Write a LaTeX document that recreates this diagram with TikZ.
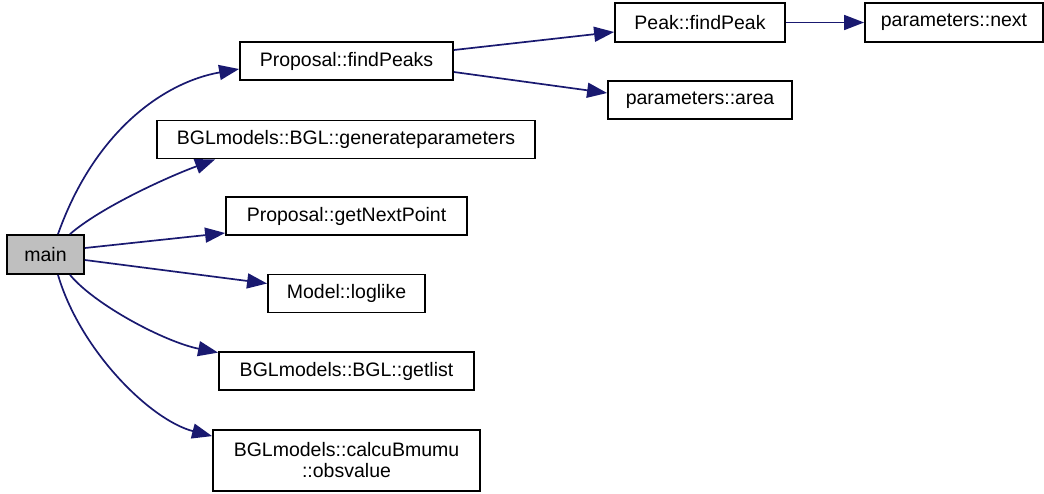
\documentclass[tikz,border=0pt]{standalone}
\usepackage{fontspec}
\setmainfont{Liberation Sans}
\usetikzlibrary{arrows.meta}
\definecolor{edgecol}{HTML}{191970}
\definecolor{maingray}{HTML}{BFBFBF}
\begin{document}
\begin{tikzpicture}[x=1pt,y=-1pt,
  box/.style={draw=black, fill=white, line width=1.8pt, inner sep=0pt,
    font=\fontsize{19.5}{21}\selectfont, align=center, minimum height=38pt},
  edge/.style={draw=edgecol, line width=1.7pt, -{Triangle[length=20pt,width=15pt]}}]
\useasboundingbox (0,0) rectangle (1044,493);
\node[box, fill=maingray, minimum width=77pt, minimum height=39pt] (main) at (45.5,254.5) {main};
\node[box, minimum width=213pt] (findPeaks) at (346.5,61) {Proposal::findPeaks};
\node[box, minimum width=378pt] (genpar) at (346,139.5) {BGLmodels::BGL::generateparameters};
\node[box, minimum width=241pt] (nextpt) at (346.5,216) {Proposal::getNextPoint};
\node[box, minimum width=157pt] (loglike) at (346.5,293.5) {Model::loglike};
\node[box, minimum width=255pt] (getlist) at (346.5,371) {BGLmodels::BGL::getlist};
\node[box, minimum width=267pt, minimum height=61pt] (obsvalue) at (346.5,460.5) {BGLmodels::calcuBmumu\\::obsvalue};
\node[box, minimum width=170pt, minimum height=39pt] (findPeak) at (700,22.5) {Peak::findPeak};
\node[box, minimum width=184pt] (area) at (700,100) {parameters::area};
\node[box, minimum width=178pt, minimum height=39pt] (pnext) at (954,22.5) {parameters::next};

\draw[edge] ([xshift=12.5pt]main.north) .. controls (95,130) and (165,82) .. ([yshift=-8pt]findPeaks.west);
\draw[edge] ([xshift=24.5pt]main.north) .. controls (100,208) and (165,178) .. ([xshift=59pt]genpar.south west);
\draw[edge] ([yshift=6.5pt]main.east) -- ([yshift=-17pt]nextpt.west);
\draw[edge] ([yshift=-5.5pt]main.east) -- ([yshift=10pt]loglike.west);
\draw[edge] ([xshift=24.5pt]main.south) .. controls (95,305) and (165,342) .. ([yshift=-1.5pt]getlist.north west);
\draw[edge] ([xshift=12.5pt]main.south) .. controls (80,350) and (150,420) .. ([yshift=-7pt]obsvalue.north west);
\draw[edge] ([yshift=11pt]findPeaks.east) -- ([yshift=-9.5pt]findPeak.west);
\draw[edge] ([yshift=-11pt]findPeaks.east) -- ([yshift=7pt]area.west);
\draw[edge] (findPeak) -- (pnext);
\end{tikzpicture}
\end{document}
